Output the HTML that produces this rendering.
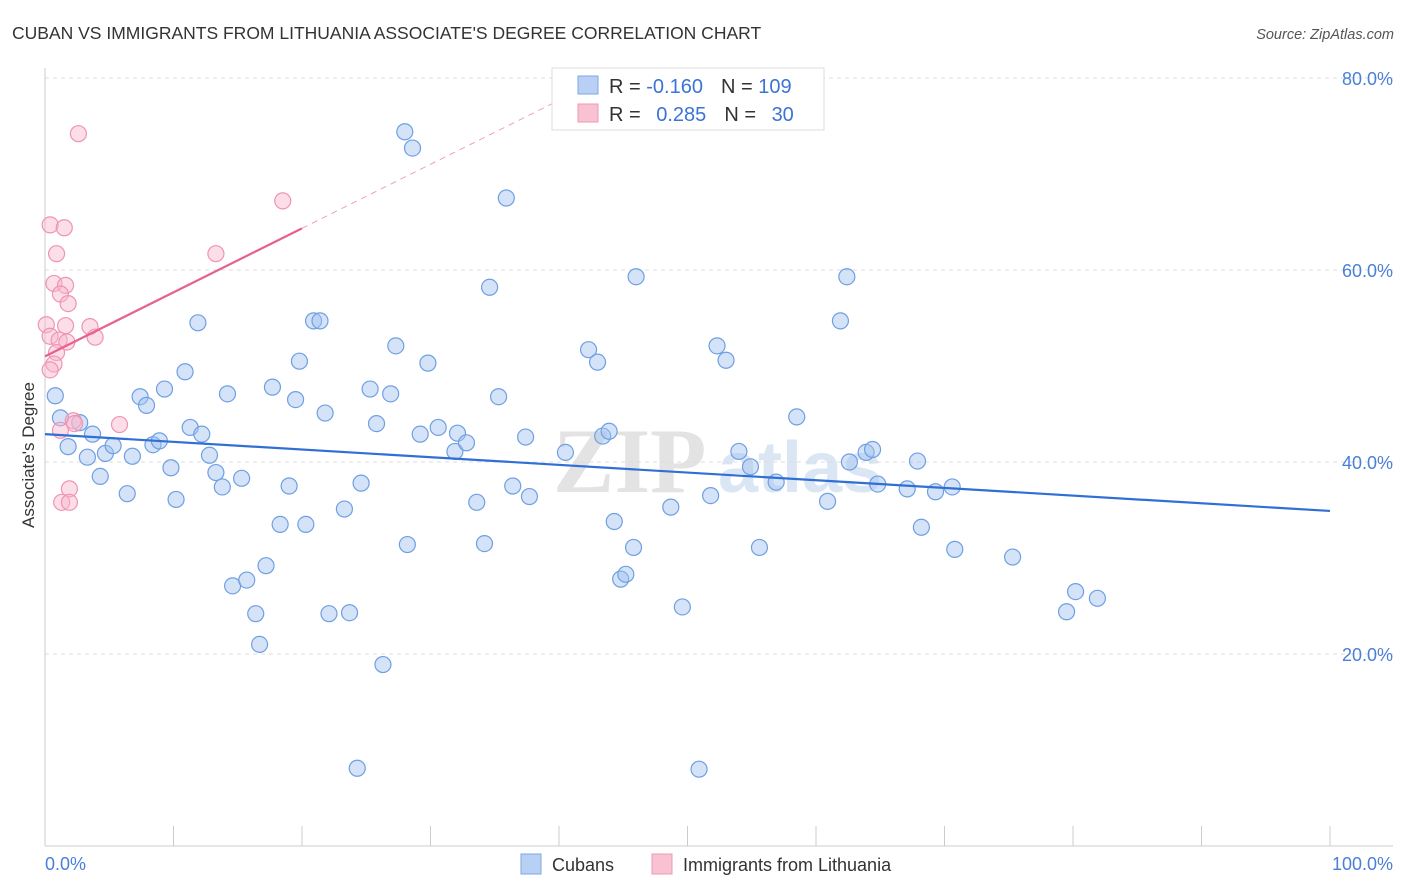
<!DOCTYPE html>
<html><head><meta charset="utf-8"><style>
body{margin:0;background:#fff;font-family:"Liberation Sans",sans-serif}
svg{display:block}
</style></head><body>
<svg id="chart" width="1406" height="892">
<text x="12" y="39" font-size="17.5" fill="#333">CUBAN VS IMMIGRANTS FROM LITHUANIA ASSOCIATE'S DEGREE CORRELATION CHART</text>
<text x="1394" y="39" font-size="14.5" fill="#555" font-style="italic" text-anchor="end">Source: ZipAtlas.com</text>
<text transform="translate(34,455) rotate(-90)" font-size="17" fill="#333" text-anchor="middle">Associate's Degree</text>
<g>
<text x="553" y="492" font-size="92" fill="#e3e3e3" font-family="Liberation Serif,serif" font-weight="bold">ZIP</text>
<text x="718" y="492" font-size="72" fill="#dbe6f5" font-weight="bold">atlas</text>
</g>
<g id="grid"></g><g id="axes"></g><g id="pts"></g><g id="trend"></g>
<g>
<rect x="552" y="68" width="272" height="62" fill="#fff" stroke="#ddd"/>
<rect x="578" y="76" width="20" height="18" fill="#b8d0f3" stroke="#7ea7e5"/>
<rect x="578" y="104" width="20" height="18" fill="#f9c2d3" stroke="#ee9ab5"/>
<text x="609" y="93" font-size="20" fill="#333">R = <tspan fill="#3b73d6">-0.160</tspan><tspan dx="18">N = </tspan><tspan fill="#3b73d6">109</tspan></text>
<text x="609" y="121" font-size="20" fill="#333">R = <tspan fill="#3b73d6" dx="10">0.285</tspan><tspan dx="18">N = </tspan><tspan fill="#3b73d6" dx="10">30</tspan></text>
</g>
<g>
<rect x="521" y="854" width="20" height="20" fill="#b8d0f3" stroke="#7ea7e5"/>
<text x="552" y="871" font-size="18" fill="#333">Cubans</text>
<rect x="652" y="854" width="20" height="20" fill="#f9c2d3" stroke="#ee9ab5"/>
<text x="683" y="871" font-size="18" fill="#333">Immigrants from Lithuania</text>
</g>
</svg>
<script>
const yTicks=[20,40,60,80];
const yTickLabels=["20.0%","40.0%","60.0%","80.0%"];
const cubanX=[0.8,1.2,2.7,1.8,3.7,3.3,4.3,4.7,5.3,6.4,6.8,7.4,7.9,8.4,8.9,9.3,9.8,10.2,10.9,11.3,11.9,12.2,12.8,13.3,13.8,14.2,14.6,15.3,15.7,16.4,16.7,17.2,17.7,18.3,19.0,19.5,19.8,20.3,20.9,21.4,21.8,22.1,23.3,23.7,24.3,24.6,25.3,25.8,26.3,26.9,27.3,28.2,28.6,28.0,29.2,29.8,30.6,31.9,32.1,32.8,33.6,34.2,34.6,35.3,35.9,36.4,37.4,37.7,40.5,42.3,43.0,43.4,43.9,44.3,44.8,45.2,45.8,46.0,48.7,49.6,50.9,51.8,52.3,53.0,54.0,54.9,55.6,56.9,58.5,60.9,61.9,62.4,62.6,63.9,64.4,64.8,67.1,67.9,68.2,69.3,70.6,70.8,75.3,79.5,80.2,81.9];
const cubanY=[46.9,44.6,44.1,41.6,42.9,40.5,38.5,40.9,41.7,36.7,40.6,46.8,45.9,41.8,42.2,47.6,39.4,36.1,49.4,43.6,54.5,42.9,40.7,38.9,37.4,47.1,27.1,38.3,27.7,24.2,21.0,29.2,47.8,33.5,37.5,46.5,50.5,33.5,54.7,54.7,45.1,24.2,35.1,24.3,8.1,37.8,47.6,44.0,18.9,47.1,52.1,31.4,72.7,74.4,42.9,50.3,43.6,41.1,43.0,42.0,35.8,31.5,58.2,46.8,67.5,37.5,42.6,36.4,41.0,51.7,50.4,42.7,43.2,33.8,27.8,28.3,31.1,59.3,35.3,24.9,8.0,36.5,52.1,50.6,41.1,39.5,31.1,37.9,44.7,35.9,54.7,59.3,40.0,41.0,41.3,37.7,37.2,40.1,33.2,36.9,37.4,30.9,30.1,24.4,26.5,25.8];
const lithX=[2.6,0.4,1.5,0.9,13.3,18.5,0.7,1.6,1.2,1.8,0.1,1.6,3.5,3.9,0.4,1.1,1.7,0.9,0.7,0.4,2.2,2.3,5.8,1.9,1.3,1.9,1.2];
const lithY=[74.2,64.7,64.4,61.7,61.7,67.2,58.6,58.4,57.5,56.5,54.3,54.2,54.1,53.0,53.1,52.7,52.5,51.4,50.2,49.6,44.3,44.0,43.9,37.2,35.8,35.8,43.3];
const cubanTrend=[42.9,34.9];
const lithTrend=[51.0,0.667];
const NS="http://www.w3.org/2000/svg";
const X=v=>45+v*12.85, Y=v=>846-v*9.6;
function mk(t,a,p){const e=document.createElementNS(NS,t);for(const k in a)e.setAttribute(k,a[k]);p.appendChild(e);return e;}
const grid=document.getElementById('grid'),axes=document.getElementById('axes'),pts=document.getElementById('pts'),tr=document.getElementById('trend');
yTicks.forEach((v,i)=>{
 const l=mk('line',{x1:45,x2:1393,y1:Y(v),y2:Y(v),stroke:'#dcdcdc','stroke-dasharray':'4,4'},grid);
 
 
 const t=mk('text',{x:1393,y:Y(v)+7,'font-size':18,fill:'#4a7fd8','text-anchor':'end'},axes);t.textContent=yTickLabels[i];
 
 
});
const ya=mk('line',{x1:45,x2:45,y1:68,y2:846,stroke:'#ccc'},axes);


const xa=mk('line',{x1:45,x2:1393,y1:846,y2:846,stroke:'#ccc'},axes);


for(let i=0;i<=10;i++){const t=mk('line',{x1:X(i*10),x2:X(i*10),y1:826,y2:846,stroke:'#ccc'},axes);
 
 }
let t0=mk('text',{x:45,y:870,'font-size':18,fill:'#4a7fd8'},axes);t0.textContent='0.0%';


let t1=mk('text',{x:1393,y:870,'font-size':18,fill:'#4a7fd8','text-anchor':'end'},axes);t1.textContent='100.0%';


cubanX.forEach((x,i)=>{const c=mk('circle',{cx:X(x),cy:Y(cubanY[i]),r:8,fill:'rgba(160,194,240,0.45)',stroke:'#6f9fe3','stroke-width':1.2},pts);
 
 });
lithX.forEach((x,i)=>{const c=mk('circle',{cx:X(x),cy:Y(lithY[i]),r:8,fill:'rgba(248,182,204,0.45)',stroke:'#ef94b3','stroke-width':1.2},pts);
 
 });
const bl=mk('line',{x1:X(0),y1:Y(cubanTrend[0]),x2:X(100),y2:Y(cubanTrend[1]),stroke:'#2f6fd6','stroke-width':2.2},tr);


const pl=mk('line',{x1:X(0),y1:Y(lithTrend[0]),x2:X(20),y2:Y(lithTrend[0]+20*lithTrend[1]),stroke:'#e8608f','stroke-width':2.2},tr);


const pd=mk('line',{x1:X(20),y1:Y(lithTrend[0]+20*lithTrend[1]),x2:X(40.5),y2:Y(lithTrend[0]+40.5*lithTrend[1]),stroke:'#f0a0bc','stroke-width':1,'stroke-dasharray':'6,5'},tr);


</script>
</body></html>
